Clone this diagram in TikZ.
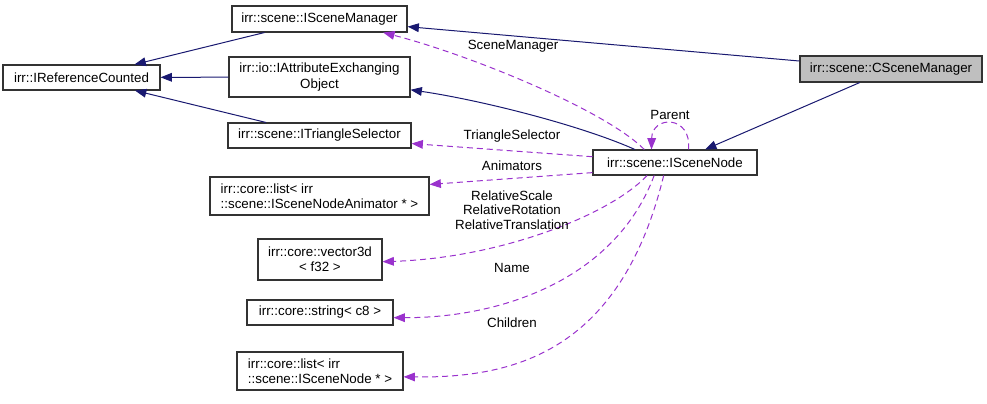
\documentclass[tikz,border=0pt]{standalone}
\usepackage{fontspec}
\setmainfont{Liberation Sans}
\usetikzlibrary{arrows.meta}
\definecolor{navyedge}{RGB}{25,25,112}
\definecolor{purpleedge}{RGB}{154,50,205}
\definecolor{mainfill}{RGB}{191,191,191}
\tikzset{
	cls/.style={draw=black!80, line width=0.8pt, inner sep=0pt, align=center, font=\fontsize{10}{11.5}\selectfont},
	inh/.style={draw=navyedge, line width=0.75pt, -{Triangle[length=8.5pt,width=6.5pt]}},
	usage/.style={draw=purpleedge, line width=0.75pt, dash pattern=on 4.5pt off 3pt, -{Triangle[length=8.5pt,width=6.5pt]}},
	lbl/.style={font=\fontsize{10}{11}\selectfont, align=center, inner sep=0pt}
}
\begin{document}
\begin{tikzpicture}[x=0.75pt,y=-0.75pt]
	\useasboundingbox (0,0) rectangle (987,403);
	\node[cls, minimum width=117.75pt, minimum height=18.75pt] (refc) at (81.5,77.5) {irr::IReferenceCounted};
	\node[cls, minimum width=131.25pt, minimum height=19.5pt] (iscm) at (319.5,19) {irr::scene::ISceneManager};
	\node[cls, minimum width=135.75pt, minimum height=30pt] (iattr) at (319.5,77) {irr::io::IAttributeExchanging\\Object};
	\node[cls, minimum width=137.25pt, minimum height=18.75pt] (itri) at (319.5,135.5) {irr::scene::ITriangleSelector};
	\node[cls, fill=mainfill, minimum width=136.5pt, minimum height=19.5pt] (cscm) at (891,69) {irr::scene::CSceneManager};
	\node[cls, minimum width=123pt, minimum height=18.75pt] (isn) at (675,162.5) {irr::scene::ISceneNode};
	\node[cls, align=left, minimum width=164.25pt, minimum height=28.5pt] (lanim) at (319.5,196) {irr::core::list< irr\\::scene::ISceneNodeAnimator * >};
	\node[cls, minimum width=93pt, minimum height=30.75pt] (vec) at (320,259.5) {irr::core::vector3d\\< f32 >};
	\node[cls, minimum width=109.5pt, minimum height=18.75pt] (str) at (320,312.5) {irr::core::string< c8 >};
	\node[cls, align=left, minimum width=124.5pt, minimum height=28.5pt] (lnode) at (320,371) {irr::core::list< irr\\::scene::ISceneNode * >};

	\draw[inh] (iscm) -- (refc);
	\draw[inh] (iattr) -- (refc);
	\draw[inh] (itri) -- (refc);
	\draw[inh] (cscm) -- (iscm);
	\draw[inh] (cscm) -- (isn);
	\draw[inh] (isn.162) .. controls (580,125) and (480,100) .. (iattr.352);

	\draw[usage] (isn.157) .. controls (605,110) and (470,55) .. (iscm.-12);
	\node[lbl] (lscm) at (513,46) {SceneManager};
	\draw[usage] (isn.44) .. controls (692,115) and (652,115) .. (isn.151);
	\node[lbl] (lpar) at (670,115) {Parent};
	\draw[usage] (isn.176) -- (itri.-5);
	\node[lbl] (ltri) at (512,136) {TriangleSelector};
	\draw[usage] (isn.187) -- (lanim.6);
	\node[lbl] (lani) at (512,166) {Animators};
	\draw[usage] (isn.205) .. controls (610,215) and (500,258) .. (vec.-2);
	\node[lbl] (lrel) at (512,210) {RelativeScale\\RelativeRotation\\RelativeTranslation};
	\draw[usage] (isn.212) .. controls (615,280) and (500,318) .. (str.-4);
	\node[lbl] (lname) at (512,268) {Name};
	\draw[usage] (isn.229) .. controls (620,355) and (510,378) .. (lnode.-4);
	\node[lbl] (lchd) at (512,323) {Children};
\end{tikzpicture}
\end{document}
